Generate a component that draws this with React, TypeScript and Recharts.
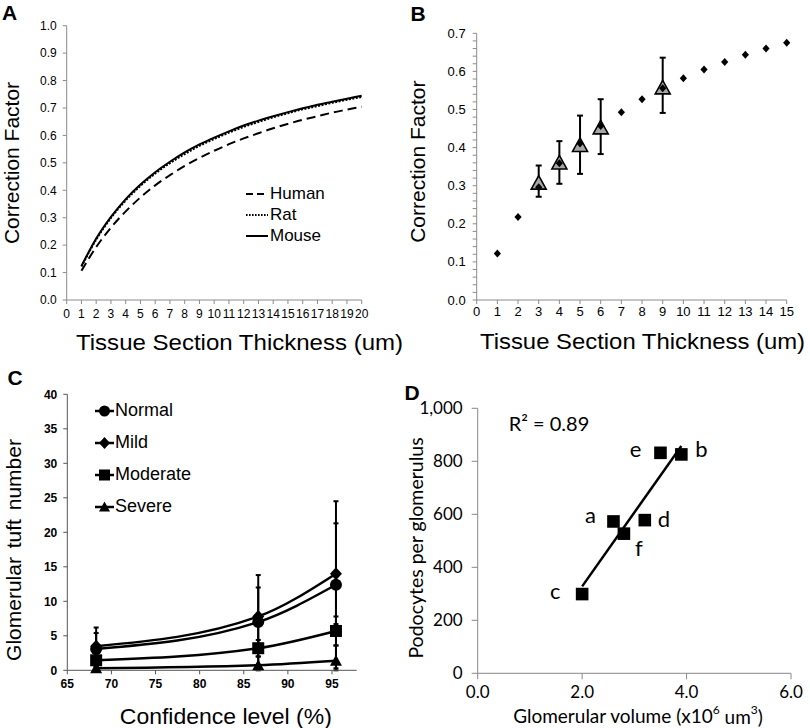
import React from 'react';
import { LineChart, Line, XAxis, YAxis, ScatterChart, Scatter, ErrorBar, Legend, Label } from 'recharts';

// ---------- Panel A: correction factor vs section thickness ----------
const thicknessA = [1, 2, 3, 4, 5, 6, 7, 8, 9, 10, 11, 12, 13, 14, 15, 16, 17, 18, 19, 20];
const humanCF = [0.107, 0.193, 0.264, 0.323, 0.374, 0.418, 0.455, 0.489, 0.518, 0.544, 0.568, 0.589, 0.608, 0.626, 0.642, 0.657, 0.670, 0.683, 0.694, 0.705];
const ratCF = [0.122, 0.220, 0.299, 0.363, 0.416, 0.461, 0.499, 0.532, 0.562, 0.587, 0.610, 0.631, 0.649, 0.666, 0.681, 0.695, 0.707, 0.719, 0.730, 0.740];
const mouseCF = [0.124, 0.224, 0.303, 0.368, 0.421, 0.466, 0.504, 0.538, 0.567, 0.592, 0.615, 0.636, 0.654, 0.670, 0.685, 0.699, 0.712, 0.723, 0.734, 0.745];
const ticksAX = [0, 1, 2, 3, 4, 5, 6, 7, 8, 9, 10, 11, 12, 13, 14, 15, 16, 17, 18, 19, 20];
const ticksAY = [0, 0.1, 0.2, 0.3, 0.4, 0.5, 0.6, 0.7, 0.8, 0.9, 1.0];

// ---------- Panel B: predicted vs measured ----------
const thicknessB = [1, 2, 3, 4, 5, 6, 7, 8, 9, 10, 11, 12, 13, 14, 15];
const predictedCF = [0.122, 0.218, 0.296, 0.359, 0.411, 0.457, 0.493, 0.527, 0.556, 0.582, 0.605, 0.625, 0.644, 0.660, 0.675];
const measuredThickness = [3, 4, 5, 6, 9];
const measuredCF = [0.308, 0.361, 0.407, 0.453, 0.558];
const measuredLow = [0.271, 0.305, 0.331, 0.383, 0.491];
const measuredHigh = [0.353, 0.417, 0.484, 0.527, 0.636];
const ticksBX = [0, 1, 2, 3, 4, 5, 6, 7, 8, 9, 10, 11, 12, 13, 14, 15];
const ticksBY = [0, 0.02, 0.04, 0.06, 0.08, 0.1, 0.12, 0.14, 0.16, 0.18, 0.2, 0.22, 0.24, 0.26, 0.28, 0.3, 0.32, 0.34, 0.36, 0.38, 0.4, 0.42, 0.44, 0.46, 0.48, 0.5, 0.52, 0.54, 0.56, 0.58, 0.6, 0.62, 0.64, 0.66, 0.68, 0.7];

// ---------- Panel C: glomerular tuft number vs confidence ----------
const confidence = [68.27, 86.64, 95.45];
const normalTuft = [3.1, 7.0, 12.4];
const normalErr = [3.1, 6.8, 12.1];
const mildTuft = [3.5, 7.8, 14.0];
const mildErr = [1.9, 4.2, 7.3];
const moderateTuft = [1.45, 3.2, 5.7];
const moderateErr = [1.0, 1.2, 2.1];
const severeTuft = [0.3, 0.75, 1.4];
const severeErr = [0.3, 1.25, 2.2];
const ticksCX = [65, 70, 75, 80, 85, 90, 95];
const ticksCY = [0, 5, 10, 15, 20, 25, 30, 35, 40];

// ---------- Panel D: podocytes vs glomerular volume ----------
const subjects = ['a', 'b', 'c', 'd', 'e', 'f'];
const glomVolume = [2.6, 3.9, 2.0, 3.2, 3.5, 2.8];
const podocytes = [573, 826, 299, 578, 832, 527];
const trendVolume = [2.0, 3.9];
const trendPodocytes = [328, 858];
const ticksDX = [0, 2, 4, 6];
const ticksDY = [0, 200, 400, 600, 800, 1000];

// ---------- built tables ----------
const dataA = thicknessA.map((t, i) => ({ t, human: humanCF[i], rat: ratCF[i], mouse: mouseCF[i] }));
const dataBPred = thicknessB.map((x, i) => ({ x, y: predictedCF[i] }));
const dataBMeas = measuredThickness.map((x, i) => ({
  x,
  y: measuredCF[i],
  err: [measuredCF[i] - measuredLow[i], measuredHigh[i] - measuredCF[i]],
}));
const errPair = (v: number, e: number) => [Math.min(v, e), e];
const dataC = confidence.map((x, i) => ({
  x,
  normal: normalTuft[i], normalErr: errPair(normalTuft[i], normalErr[i]),
  mild: mildTuft[i], mildErr: errPair(mildTuft[i], mildErr[i]),
  moderate: moderateTuft[i], moderateErr: errPair(moderateTuft[i], moderateErr[i]),
  severe: severeTuft[i], severeErr: errPair(severeTuft[i], severeErr[i]),
}));
const dataD = subjects.map((name, i) => ({ name, x: glomVolume[i], y: podocytes[i] }));
const dataTrend = trendVolume.map((x, i) => ({ x, y: trendPodocytes[i] }));

// label placement for panel D point names (layout only)
const labelOffsetD: Record<string, [number, number]> = {
  a: [-23, -7], b: [20, -6], c: [-27, -4], d: [19, -2], e: [-25, -4], f: [15, 14],
};

const ARIAL = '"Liberation Sans", Arial, sans-serif';
const LATO = 'Lato, sans-serif';

type TitleOpts = { rotate?: boolean; length?: number; wordSpacing?: number; family?: string };
const axisTitle = (text: React.ReactNode, x: number, y: number, size: number, opts: TitleOpts = {}) => (
  <Label
    content={() => (
      <text
        x={x}
        y={y}
        fontSize={size}
        fill="#000"
        textAnchor="middle"
        dominantBaseline="central"
        fontFamily={opts.family || ARIAL}
        transform={opts.rotate ? `rotate(-90, ${x}, ${y})` : undefined}
        textLength={opts.length}
        lengthAdjust={opts.length ? 'spacingAndGlyphs' : undefined}
        style={opts.wordSpacing ? { wordSpacing: opts.wordSpacing } : undefined}
      >
        {text}
      </text>
    )}
  />
);

type Kind = 'circle' | 'diamond' | 'square' | 'triangle';
const Marker = ({ kind, cx, cy, s }: { kind: Kind; cx: number; cy: number; s: number }) => {
  if (kind === 'circle') return <circle cx={cx} cy={cy} r={s} fill="#000" />;
  if (kind === 'diamond')
    return <polygon points={`${cx},${cy - s - 0.5} ${cx + s},${cy} ${cx},${cy + s + 0.5} ${cx - s},${cy}`} fill="#000" />;
  if (kind === 'square') return <rect x={cx - s} y={cy - s} width={2 * s} height={2 * s} fill="#000" />;
  return <polygon points={`${cx},${cy - s} ${cx + s},${cy + s - 1} ${cx - s},${cy + s - 1}`} fill="#000" />;
};

// ---------------- Panel A ----------------
const legendA = [
  { name: 'Human', dash: '7 4' },
  { name: 'Rat', dash: '1.6 1.4' },
  { name: 'Mouse', dash: undefined as string | undefined },
];

function PanelA() {
  return (
    <div style={{ position: 'absolute', left: 0, top: 0, fontFamily: ARIAL }}>
      <LineChart width={405} height={364} data={dataA} margin={{ top: 25.7, right: 43.3, left: 16.7, bottom: 34 }}>
        <XAxis
          type="number"
          dataKey="t"
          domain={[0, 20]}
          ticks={ticksAX}
          interval={0}
          tickSize={4}
          tickMargin={5}
          stroke="#8c8c8c"
          tick={{ fill: '#000', fontSize: 12 }}
          height={30}
        >
          {axisTitle('Tissue Section Thickness (um)', 239.5, 342.7, 22, { length: 327 })}
        </XAxis>
        <YAxis
          type="number"
          domain={[0, 1]}
          ticks={ticksAY}
          interval={0}
          width={50}
          tickSize={4}
          tickMargin={6}
          stroke="#8c8c8c"
          tick={{ fill: '#000', fontSize: 12 }}
          tickFormatter={(v: number) => v.toFixed(1)}
        >
          {axisTitle('Correction Factor', 11, 163, 21, { rotate: true })}
        </YAxis>
        <Line dataKey="human" name="Human" type="monotone" dot={false} stroke="#000" strokeWidth={2} strokeDasharray="9 5" isAnimationActive={false} />
        <Line dataKey="mouse" name="Mouse" type="monotone" dot={false} stroke="#000" strokeWidth={2} isAnimationActive={false} />
        <Line dataKey="rat" name="Rat" type="monotone" dot={false} stroke="#000" strokeWidth={2} strokeDasharray="2 1.5" isAnimationActive={false} />
        <Legend
          layout="vertical"
          align="center"
          verticalAlign="middle"
          wrapperStyle={{ position: 'absolute', left: 245, top: 182.8, width: 110, height: 64 }}
          content={() => (
            <div>
              {legendA.map((it) => (
                <div key={it.name} style={{ display: 'flex', alignItems: 'center', height: 21, fontSize: 17, color: '#000', lineHeight: '21px' }}>
                  <svg width={24} height={21} style={{ display: 'block' }}>
                    <line x1={1} y1={11} x2={23} y2={11} stroke="#000" strokeWidth={2} strokeDasharray={it.dash} />
                  </svg>
                  <span style={{ marginLeft: 1 }}>{it.name}</span>
                </div>
              ))}
            </div>
          )}
        />
      </LineChart>
    </div>
  );
}

// ---------------- Panel B ----------------
const BTick = (props: any) => {
  const { x, y, payload } = props;
  const v = payload.value as number;
  if (Math.round(v * 100) % 10 !== 0) return <g />;
  return (
    <text x={x} y={y} textAnchor="end" dominantBaseline="central" fontSize={13} fill="#000">
      {v.toFixed(1)}
    </text>
  );
};

const DiamondShape = (props: any) => {
  const { cx, cy } = props;
  return <polygon points={`${cx},${cy - 4} ${cx + 3.6},${cy} ${cx},${cy + 4} ${cx - 3.6},${cy}`} fill="#000" />;
};
const TriangleShape = (props: any) => {
  const { cx, cy } = props;
  return (
    <polygon
      points={`${cx},${cy - 7} ${cx + 7.5},${cy + 6.5} ${cx - 7.5},${cy + 6.5}`}
      fill="#a6a6a6"
      stroke="#000"
      strokeWidth={1.6}
      strokeLinejoin="miter"
    />
  );
};

function PanelB() {
  return (
    <div style={{ position: 'absolute', left: 405, top: 0, fontFamily: ARIAL }}>
      <ScatterChart width={405} height={364} margin={{ top: 33.3, right: 23.3, left: 21.7, bottom: 34 }}>
        <XAxis
          type="number"
          dataKey="x"
          domain={[0, 15]}
          ticks={ticksBX}
          interval={0}
          tickSize={4}
          tickMargin={3}
          stroke="#8c8c8c"
          tick={{ fill: '#000', fontSize: 13 }}
          height={30}
        >
          {axisTitle('Tissue Section Thickness (um)', 237.5, 341.7, 22, { length: 325 })}
        </XAxis>
        <YAxis
          type="number"
          dataKey="y"
          domain={[0, 0.7]}
          ticks={ticksBY}
          interval={0}
          width={50}
          tickSize={4}
          tickMargin={7}
          stroke="#8c8c8c"
          tick={<BTick />}
        >
          {axisTitle('Correction Factor', 13, 161.7, 21, { rotate: true })}
        </YAxis>
        <Scatter data={dataBMeas} shape={<TriangleShape />} isAnimationActive={false}>
          <ErrorBar dataKey="err" direction="y" width={3} strokeWidth={2} stroke="#000" />
        </Scatter>
        <Scatter data={dataBPred} shape={<DiamondShape />} isAnimationActive={false} />
      </ScatterChart>
    </div>
  );
}

// ---------------- Panel C ----------------
const seriesC: { key: string; name: string; kind: Kind; s: number }[] = [
  { key: 'normal', name: 'Normal', kind: 'circle', s: 6 },
  { key: 'mild', name: 'Mild', kind: 'diamond', s: 6 },
  { key: 'moderate', name: 'Moderate', kind: 'square', s: 6 },
  { key: 'severe', name: 'Severe', kind: 'triangle', s: 6 },
];

function PanelC() {
  return (
    <div style={{ position: 'absolute', left: 0, top: 364, fontFamily: ARIAL }}>
      <LineChart width={405} height={364} data={dataC} margin={{ top: 30.3, right: 48.3, left: 17.3, bottom: 27.7 }}>
        <XAxis
          type="number"
          dataKey="x"
          domain={[65, 97.8]}
          ticks={ticksCX}
          interval={0}
          tickSize={4}
          tickMargin={5}
          stroke="#555"
          tick={{ fill: '#000', fontSize: 12, fontWeight: 'bold' }}
          height={30}
        >
          {axisTitle('Confidence level (%)', 225.8, 352.7, 22, { length: 212 })}
        </XAxis>
        <YAxis
          type="number"
          domain={[0, 40]}
          ticks={ticksCY}
          interval={0}
          width={50}
          tickSize={4}
          tickMargin={6}
          stroke="#555"
          tick={{ fill: '#000', fontSize: 12, fontWeight: 'bold' }}
        >
          {axisTitle('Glomerular tuft number', 13, 186, 21, { rotate: true, wordSpacing: 3 })}
        </YAxis>
        {seriesC.map((s) => (
          <Line
            key={s.key}
            dataKey={s.key}
            name={s.name}
            type="monotone"
            stroke="#000"
            strokeWidth={2.5}
            isAnimationActive={false}
            dot={(p: any) => <Marker key={`${s.key}-${p.index}`} kind={s.kind} cx={p.cx} cy={p.cy} s={s.s} />}
          >
            <ErrorBar dataKey={`${s.key}Err`} direction="y" width={2.5} strokeWidth={2} stroke="#000" />
          </Line>
        ))}
        <Legend
          layout="vertical"
          align="center"
          verticalAlign="middle"
          wrapperStyle={{ position: 'absolute', left: 95, top: 30.6, width: 120, height: 130 }}
          content={() => (
            <div>
              {seriesC.map((s) => (
                <div key={s.key} style={{ display: 'flex', alignItems: 'center', height: 32.1, fontSize: 18, color: '#000' }}>
                  <svg width={19} height={20} style={{ display: 'block' }}>
                    <line x1={0} y1={10} x2={19} y2={10} stroke="#000" strokeWidth={2.5} />
                    <Marker kind={s.kind} cx={9.5} cy={10} s={5.5} />
                  </svg>
                  <span style={{ marginLeft: 1 }}>{s.name}</span>
                </div>
              ))}
            </div>
          )}
        />
      </LineChart>
    </div>
  );
}

// ---------------- Panel D ----------------
const SquareLabelShape = (props: any) => {
  const { cx, cy, payload } = props;
  const off = labelOffsetD[payload.name] || [0, 0];
  return (
    <g>
      <rect x={cx - 6.3} y={cy - 6.3} width={12.6} height={12.6} fill="#000" />
      <text x={cx + off[0]} y={cy + off[1]} textAnchor="middle" dominantBaseline="central" fontSize={22} fill="#000" fontFamily={LATO}>
        {payload.name}
      </text>
    </g>
  );
};

function PanelD() {
  return (
    <div style={{ position: 'absolute', left: 405, top: 364, fontFamily: LATO }}>
      <ScatterChart width={405} height={364} margin={{ top: 44.3, right: 19, left: 12.7, bottom: 24.7 }}>
        <XAxis
          type="number"
          dataKey="x"
          domain={[0, 6]}
          ticks={ticksDX}
          interval={0}
          tickSize={6}
          tickMargin={7}
          stroke="#888"
          tick={{ fill: '#000', fontSize: 17 }}
          tickFormatter={(v: number) => v.toFixed(1)}
          height={30}
        >
          {axisTitle(
            <>
              Glomerular volume (x10<tspan dy={-7} fontSize={12}>6</tspan>
              <tspan dy={7}> um</tspan>
              <tspan dy={-7} fontSize={12}>3</tspan>
              <tspan dy={7}>)</tspan>
            </>,
            233,
            351.5,
            19,
            { family: LATO }
          )}
        </XAxis>
        <YAxis
          type="number"
          dataKey="y"
          domain={[0, 1000]}
          ticks={ticksDY}
          interval={0}
          width={60}
          tickSize={6}
          tickMargin={9}
          stroke="#888"
          tick={{ fill: '#000', fontSize: 17 }}
          tickFormatter={(v: number) => v.toLocaleString('en-US')}
        >
          {axisTitle('Podocytes per glomerulus', 10, 184, 19.5, { rotate: true, family: LATO })}
        </YAxis>
        <Scatter data={dataTrend} line={{ stroke: '#000', strokeWidth: 2.5 }} shape={() => <g />} isAnimationActive={false} />
        <Scatter data={dataD} shape={<SquareLabelShape />} isAnimationActive={false} />
      </ScatterChart>
    </div>
  );
}

function PanelLetters() {
  return (
    <svg width={810} height={728} style={{ position: 'absolute', left: 0, top: 0, pointerEvents: 'none' }}>
      <g fontFamily={ARIAL} fontWeight="bold" fontSize={21} fill="#000">
        <text x={2} y={19.5}>A</text>
        <text x={410.5} y={21}>B</text>
        <text x={7.5} y={385}>C</text>
        <text x={404.5} y={399.5}>D</text>
      </g>
      <text x={549} y={423.3} textAnchor="middle" dominantBaseline="central" fontFamily={LATO} fontSize={20} fill="#000">
        R² = 0.89
      </text>
    </svg>
  );
}

export default function App() {
  return (
    <div style={{ position: 'absolute', left: 0, top: 0, width: 810, height: 728, background: '#fff', overflow: 'hidden' }}>
      <PanelA />
      <PanelB />
      <PanelC />
      <PanelD />
      <PanelLetters />
    </div>
  );
}
